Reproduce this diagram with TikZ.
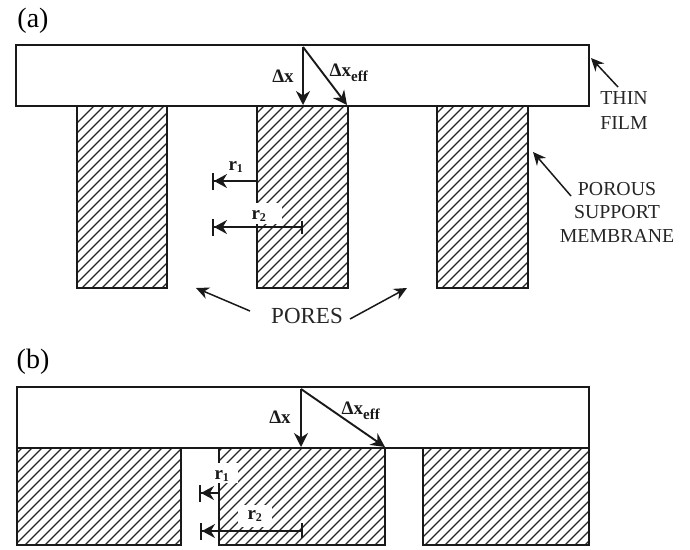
\documentclass[tikz,border=0pt]{standalone}
\usepackage{fontspec}
\setmainfont{Liberation Serif}
\usetikzlibrary{arrows.meta}
\tikzset{
  edgeline/.style={draw=black!90,line width=2.4pt},
  hatchline/.style={draw=black!85,line width=1.3pt},
  ptr/.style={draw=black!90,line width=1.5pt,-{Stealth[length=13pt,width=12pt]}},
  dim/.style={draw=black!90,line width=1.9pt,-{Stealth[length=14pt,width=14pt]}},
  rdim/.style={draw=black!90,line width=1.7pt,-{Stealth[length=13pt,width=14pt,sep=0pt]Bar[width=17pt,line width=2pt]}},
  lab/.style={font=\fontsize{19.8}{22}\selectfont,text=black!85,inner sep=0pt},
  head/.style={font=\fontsize{28}{30}\selectfont,inner sep=0pt},
  sym/.style={font=\bfseries\fontsize{19}{21}\selectfont,text=black!90,inner sep=0pt},
  mask/.style={fill=white,draw=none}
}
\newcommand{\hatchblock}[4]{%
  \begin{scope}
    \clip (#1,#2) rectangle (#3,#4);
    \foreach \k in {-40,...,80}{
      \draw[hatchline] ({\k*10},600) -- ({\k*10+600},0);
    }
  \end{scope}
  \draw[edgeline] (#1,#2) rectangle (#3,#4);
}
\begin{document}
\begin{tikzpicture}[x=1pt,y=-1pt]
\useasboundingbox (0,0) rectangle (690,549);
% panel (a)
\hatchblock{77}{106}{167}{288}
\hatchblock{257}{106}{348}{288}
\hatchblock{437}{106}{528}{288}
\draw[edgeline] (16,45) rectangle (589,106);
\fill[mask] (248,203) rectangle (282,224);
\node[head] (a) at (33,21) {(a)};
\coordinate (atop) at (303,47);
\coordinate (afoot) at (303,105);
\coordinate (acorner) at (347,105);
\draw[dim] (atop) -- (afoot);
\draw[dim] (atop) -- (acorner);
\node[sym] (adx) at (283,76) {Δx};
\node[sym] (adxe) at (349,73) {Δx\textsubscript{\fontsize{15}{15}\selectfont eff}};
\coordinate (ar1a) at (257,181);
\coordinate (ar1b) at (212,181);
\coordinate (ar2a) at (302,227);
\coordinate (ar2b) at (212,227);
\draw[rdim] (ar1a) -- (ar1b);
\draw[rdim] (ar2a) -- (ar2b);
\draw[draw=black!90,line width=1.4pt] (302,221) -- (302,234);
\node[sym] (ar1) at (236,167) {r\textsubscript{\fontsize{12}{12}\selectfont 1}};
\node[sym] (ar2) at (259,216) {r\textsubscript{\fontsize{12}{12}\selectfont 2}};
\node[lab] (thin) at (624,98) {THIN};
\node[lab] (film) at (624,123) {FILM};
\coordinate (thinfrom) at (618,87);
\coordinate (thinto) at (591,58);
\draw[ptr] (thinfrom) -- (thinto);
\node[lab] (porous) at (617,189) {POROUS};
\node[lab] (support) at (617,212) {SUPPORT};
\node[lab] (membrane) at (617,236) {MEMBRANE};
\coordinate (porfrom) at (571,196);
\coordinate (porto) at (533,152);
\draw[ptr] (porfrom) -- (porto);
\node[lab,font=\fontsize{23}{25}\selectfont] (pores) at (307,316) {PORES};
\coordinate (pl) at (250,311);
\coordinate (plto) at (196,288);
\coordinate (pr) at (350,319);
\coordinate (prto) at (407,288);
\draw[ptr] (pl) -- (plto);
\draw[ptr] (pr) -- (prto);
% panel (b)
\hatchblock{17}{448}{181}{545}
\hatchblock{219}{448}{385}{545}
\hatchblock{423}{448}{589}{545}
\draw[edgeline] (17,387) rectangle (589,448);
\fill[mask] (211,463) rectangle (238,483);
\fill[mask] (238,505) rectangle (272,527);
\node[head] (b) at (33,362) {(b)};
\coordinate (btop) at (301,389);
\coordinate (bfoot) at (301,447);
\coordinate (bcorner) at (385,447);
\draw[dim] (btop) -- (bfoot);
\draw[dim] (btop) -- (bcorner);
\node[sym] (bdx) at (280,417) {Δx};
\node[sym] (bdxe) at (361,411) {Δx\textsubscript{\fontsize{15}{15}\selectfont eff}};
\coordinate (br1a) at (219,493);
\coordinate (br1b) at (199,493);
\coordinate (br2a) at (302,531);
\coordinate (br2b) at (200,531);
\draw[rdim] (br1a) -- (br1b);
\draw[rdim] (br2a) -- (br2b);
\draw[draw=black!90,line width=1.4pt] (302,523) -- (302,538);
\node[sym] (br1) at (222,476) {r\textsubscript{\fontsize{12}{12}\selectfont 1}};
\node[sym] (br2) at (255,516) {r\textsubscript{\fontsize{12}{12}\selectfont 2}};
\end{tikzpicture}
\end{document}
